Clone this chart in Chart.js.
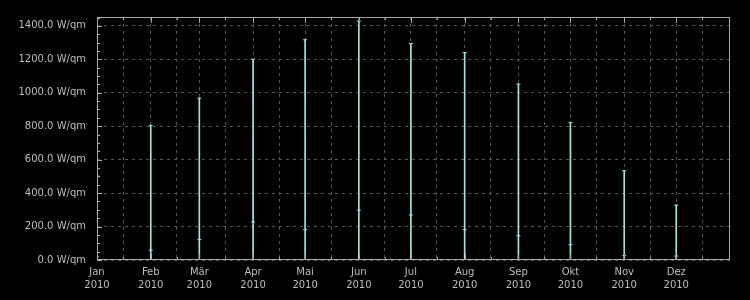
<!DOCTYPE html>
<html>
<head>
<meta charset="utf-8">
<script src="https://cdn.jsdelivr.net/npm/chart.js@4.4.1/dist/chart.umd.min.js"></script>
<style>
  html, body { margin: 0; padding: 0; background: #000; }
  canvas { display: block; }
</style>
</head>
<body>
<canvas id="chart" width="750" height="300"></canvas>
<script>
// Monatswerte Strahlung 2010
const monthLabels = ['Jan', 'Feb', 'Mär', 'Apr', 'Mai', 'Jun', 'Jul', 'Aug', 'Sep', 'Okt', 'Nov', 'Dez'];
const yearLabel = '2010';
const monthStartDays = [0, 31, 59, 90, 120, 151, 181, 212, 243, 273, 304, 334];
const midMonthDays = [15, 46, 74, 105, 135, 166, 196, 227, 258, 288, 319, 349];
const maxValues = [502, 805, 968, 1200, 1317, 1429, 1294, 1241, 1052, 823, 534, 328];
const avgValues = [20, 59, 122, 228, 181, 298, 269, 181, 145, 92, 26, 24];
const minValues = [0, 0, 0, 0, 0, 0, 0, 0, 0, 0, 0, 0];
const yTickValues = [0, 200, 400, 600, 800, 1000, 1200, 1400];

const lineColor = '#9ee6e6';
const frameColor = '#a8a8a8';
const gridColor = '#575757';
const textColor = '#bdbdbd';

// Rahmen + nach innen zeigende Ticks (wie im Original)
const frameTicks = {
    id: 'frameTicks',
    afterDraw(chart) {
        const { ctx, chartArea: a, scales: { x, y } } = chart;
        ctx.save();
        ctx.strokeStyle = frameColor;
        ctx.lineWidth = 1;
        ctx.beginPath();
        // y: alle 50 ein kleiner Tick, alle 200 ein grosser
        for (let v = 0; v <= y.max; v += 50) {
            const py = Math.round(y.getPixelForValue(v)) + 0.5;
            const len = v % 200 === 0 ? 5 : 3;
            ctx.moveTo(a.left, py);
            ctx.lineTo(a.left + len, py);
        }
        monthStartDays.concat(midMonthDays).forEach(d => {
            const px = Math.round(x.getPixelForValue(d)) + 0.5;
            const len = monthStartDays.includes(d) ? 6 : 3;
            ctx.moveTo(px, a.top);
            ctx.lineTo(px, a.top + len);
            ctx.moveTo(px, a.bottom);
            ctx.lineTo(px, a.bottom - len);
        });
        ctx.stroke();
        ctx.strokeRect(a.left + 0.5, a.top + 0.5, a.right - a.left - 1, a.bottom - a.top - 1);
        ctx.restore();
    }
};

const ctx = document.getElementById('chart');

new Chart(ctx, {
    type: 'bar',
    data: {
        datasets: [
            {
                type: 'scatter',
                data: monthStartDays.map((d, i) => ({ x: d, y: maxValues[i] })),
                pointStyle: 'line',
                pointRadius: 2,
                borderColor: lineColor,
                borderWidth: 1
            },
            {
                type: 'scatter',
                data: monthStartDays.map((d, i) => ({ x: d, y: avgValues[i] })),
                pointStyle: 'line',
                pointRadius: 2,
                borderColor: lineColor,
                borderWidth: 1
            },
            {
                type: 'bar',
                data: monthStartDays.map((d, i) => ({ x: d, y: [minValues[i], maxValues[i]] })),
                backgroundColor: lineColor,
                borderWidth: 0,
                barThickness: 1,
                grouped: false
            }
        ]
    },
    plugins: [frameTicks],
    options: {
        responsive: false,
        animation: false,
        events: [],
        layout: { padding: { top: 13, right: 20, left: 0, bottom: 0 } },
        plugins: {
            legend: { display: false },
            tooltip: { enabled: false }
        },
        scales: {
            x: {
                type: 'linear',
                min: 0,
                max: 365,
                offset: false,
                afterBuildTicks(scale) {
                    scale.ticks = monthStartDays.concat(midMonthDays)
                        .sort((p, q) => p - q)
                        .map(v => ({ value: v }));
                },
                afterFit(scale) { scale.height = 40; },
                grid: { color: gridColor, lineWidth: 1, drawTicks: false, offset: false },
                border: { display: false, dash: [3, 4] },
                ticks: {
                    autoSkip: false,
                    maxRotation: 0,
                    padding: 6,
                    color: textColor,
                    font: { family: 'DejaVu Sans', size: 10, lineHeight: 1.3 },
                    callback: function(value) {
                        const idx = monthStartDays.indexOf(value);
                        return idx >= 0 ? [monthLabels[idx], yearLabel] : '';
                    }
                }
            },
            y: {
                min: 0,
                max: 1453,
                afterBuildTicks(scale) {
                    scale.ticks = yTickValues.map(v => ({ value: v }));
                },
                afterFit(scale) { scale.width = 97; },
                grid: { color: gridColor, lineWidth: 1, drawTicks: false },
                border: { display: false, dash: [3, 4] },
                ticks: {
                    padding: 11,
                    color: textColor,
                    font: { family: 'DejaVu Sans', size: 10 },
                    callback: v => v.toFixed(1) + ' W/qm'
                }
            }
        }
    }
});
</script>
</body>
</html>
